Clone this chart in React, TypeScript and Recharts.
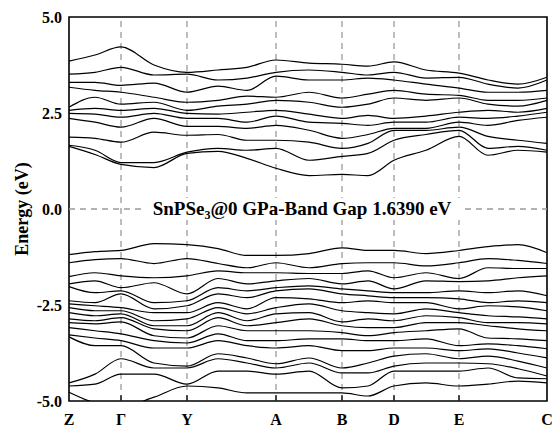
import { Line, LineChart, ReferenceArea, ReferenceLine, XAxis, YAxis } from "recharts";

// k-path distance of each sampled point (Z .. C)
const kPath = [0, 26, 52, 85, 118, 149, 178, 207, 240, 273, 299, 325, 357, 390, 419, 449, 478];
const symPoints = [0, 52, 118, 207, 273, 325, 390, 478];
const symLabels = ["Z", "Γ", "Y", "A", "B", "D", "E", "C"];
const energyTicks = [-5, -2.5, 0, 2.5, 5];

// conduction bands (eV), top to bottom
const conduction = [
  [3.85, 4.01, 4.22, 3.75, 3.56, 3.62, 3.69, 3.88, 3.8, 3.77, 3.72, 3.83, 3.62, 3.54, 3.36, 3.25, 3.43],
  [3.51, 3.56, 3.69, 3.49, 3.51, 3.36, 3.41, 3.56, 3.62, 3.56, 3.49, 3.56, 3.41, 3.43, 3.25, 3.15, 3.36],
  [3.3, 3.3, 3.22, 3.28, 3.04, 3.2, 3.09, 3.46, 3.36, 3.36, 3.41, 3.36, 3.25, 3.15, 3.04, 3.04, 3.09],
  [3.17, 3.09, 3.04, 2.91, 2.78, 2.83, 2.94, 2.91, 3.04, 2.89, 2.99, 3.09, 2.99, 2.96, 2.83, 2.83, 2.89],
  [2.65, 2.91, 2.73, 2.78, 2.57, 2.68, 2.73, 2.83, 2.78, 2.65, 2.73, 2.89, 2.83, 2.89, 2.73, 2.68, 2.83],
  [2.57, 2.62, 2.57, 2.62, 2.49, 2.47, 2.52, 2.57, 2.47, 2.36, 2.44, 2.36, 2.42, 2.52, 2.57, 2.52, 2.62],
  [2.49, 2.47, 2.39, 2.49, 2.36, 2.36, 2.26, 2.42, 2.26, 2.23, 2.18, 2.26, 2.26, 2.39, 2.36, 2.42, 2.52],
  [2.36, 2.26, 2.13, 2.36, 2.15, 2.15, 2.1, 2.18, 2.05, 1.84, 1.94, 2.1, 2.1, 2.26, 2.18, 2.31, 2.39],
  [1.87, 1.84, 1.74, 2.0, 1.92, 1.94, 1.79, 1.79, 1.74, 1.58, 1.71, 2.05, 2.05, 2.13, 1.89, 1.79, 1.71],
  [1.66, 1.53, 1.21, 1.21, 1.48, 1.58, 1.53, 1.58, 1.27, 1.37, 1.45, 1.79, 1.94, 2.05, 1.58, 1.63, 1.53],
  [1.63, 1.42, 1.16, 1.08, 1.45, 1.5, 1.32, 1.06, 0.87, 0.9, 0.87, 1.27, 1.53, 1.89, 1.4, 1.53, 1.48],
];

// valence bands (eV), top to bottom
const valence = [
  [-1.19, -1.11, -1.08, -0.9, -0.93, -1.03, -1.21, -1.21, -1.16, -1.01, -1.08, -1.08, -1.16, -1.08, -0.98, -0.93, -1.14],
  [-1.4, -1.32, -1.29, -1.42, -1.29, -1.42, -1.53, -1.4, -1.53, -1.42, -1.4, -1.4, -1.48, -1.4, -1.29, -1.34, -1.42],
  [-1.76, -1.66, -1.74, -1.79, -1.74, -1.61, -1.66, -1.66, -1.68, -1.68, -1.61, -1.79, -1.66, -1.81, -1.53, -1.55, -1.55],
  [-1.95, -1.87, -2.05, -1.92, -2.21, -1.81, -1.95, -1.87, -1.81, -1.95, -1.87, -2.08, -1.87, -1.89, -1.87, -1.79, -1.74],
  [-2.02, -2.18, -2.13, -2.44, -2.39, -2.05, -2.13, -2.05, -2.0, -2.08, -2.13, -2.18, -2.18, -2.13, -2.18, -2.13, -2.26],
  [-2.39, -2.44, -2.21, -2.6, -2.52, -2.21, -2.31, -2.13, -2.08, -2.21, -2.26, -2.31, -2.31, -2.34, -2.44, -2.39, -2.44],
  [-2.47, -2.52, -2.57, -2.7, -2.7, -2.44, -2.6, -2.31, -2.34, -2.44, -2.39, -2.44, -2.44, -2.6, -2.52, -2.55, -2.65],
  [-2.57, -2.65, -2.65, -2.91, -2.86, -2.57, -2.73, -2.57, -2.47, -2.65, -2.7, -2.73, -2.6, -2.7, -2.78, -2.81, -2.86],
  [-2.7, -2.78, -2.73, -3.04, -3.04, -2.7, -2.91, -2.73, -2.7, -2.94, -2.86, -2.91, -2.78, -2.83, -2.96, -2.96, -2.99],
  [-2.86, -2.91, -2.83, -3.12, -3.17, -2.83, -3.04, -2.96, -2.86, -3.04, -3.09, -3.09, -2.96, -2.96, -3.04, -3.12, -3.17],
  [-2.96, -2.99, -2.94, -3.3, -3.36, -3.04, -3.17, -3.17, -3.17, -3.22, -3.3, -3.22, -3.17, -3.12, -3.36, -3.38, -3.43],
  [-3.09, -3.17, -3.25, -3.43, -3.49, -3.25, -3.43, -3.43, -3.38, -3.38, -3.43, -3.43, -3.38, -3.56, -3.51, -3.56, -3.64],
  [-3.28, -3.36, -3.43, -3.62, -3.62, -3.43, -3.56, -3.62, -3.56, -3.69, -3.69, -3.62, -3.62, -3.69, -3.64, -3.75, -3.88],
  [-3.33, -3.56, -3.56, -4.01, -4.09, -3.77, -3.88, -4.03, -3.88, -4.14, -4.01, -3.83, -3.77, -3.9, -3.83, -3.96, -4.14],
  [-4.53, -4.3, -3.9, -4.14, -4.14, -3.9, -4.01, -4.14, -4.01, -4.27, -4.27, -4.09, -4.01, -4.01, -4.03, -4.16, -4.35],
  [-4.61, -4.56, -4.3, -4.3, -4.56, -4.22, -4.22, -4.3, -4.22, -4.66, -4.61, -4.22, -4.22, -4.22, -4.14, -4.4, -4.42],
  [-4.77, -5.05, -5.16, -4.9, -4.61, -4.66, -4.79, -4.79, -4.79, -4.79, -4.87, -4.61, -4.53, -4.61, -4.56, -4.48, -4.53],
];

const FONT = "'Liberation Serif', 'Times New Roman', serif";
const TICK = { fill: "#000", fontSize: 16, fontWeight: 700, fontFamily: FONT };
const DASH = "#9a9a9a";

const bands = [...conduction.map((b, i) => ({ key: `c${i}`, values: b })), ...valence.map((b, i) => ({ key: `v${i}`, values: b }))];

const data = kPath.map((k, i) => {
  const row: Record<string, number> = { k };
  bands.forEach((b) => {
    row[b.key] = b.values[i];
  });
  return row;
});

function GapLabel({ viewBox }: any) {
  const cx = viewBox.x + 233;
  const cy = viewBox.y;
  return (
    <g>
      <rect x={cx - 160} y={cy - 11} width={320} height={22} fill="#fff" />
      <text x={cx} y={cy + 6} textAnchor="middle" fontFamily={FONT} fontWeight={700} fontSize={19} fill="#000">
        <tspan>SnPSe</tspan>
        <tspan fontSize={12} dy={4}>3</tspan>
        <tspan dy={-4}>@0 GPa-Band Gap 1.6390 eV</tspan>
      </text>
    </g>
  );
}

function EnergyLabel() {
  return (
    <text
      x={22}
      y={209}
      transform="rotate(-90, 22, 209)"
      textAnchor="middle"
      dominantBaseline="central"
      fontFamily={FONT}
      fontWeight={700}
      fontSize={18}
      fill="#000"
    >
      Energy (eV)
    </text>
  );
}

export default function App() {
  return (
    <div style={{ position: "absolute", left: 0, top: 0, width: 553, height: 430, background: "#fff" }}>
      <LineChart width={553} height={430} data={data} margin={{ top: 17, right: 6, bottom: 0, left: 0 }}>
        <XAxis
          type="number"
          dataKey="k"
          domain={[0, 478]}
          ticks={symPoints}
          tickFormatter={(v) => symLabels[symPoints.indexOf(v)]}
          interval={0}
          axisLine={false}
          tickLine={false}
          tickMargin={7}
          height={29}
          tick={TICK}
        />
        <YAxis
          type="number"
          domain={[-5, 5]}
          ticks={energyTicks}
          tickFormatter={(v) => v.toFixed(1)}
          allowDataOverflow
          axisLine={false}
          tickLine={false}
          tickMargin={1}
          width={69}
          tick={TICK}
          label={{ content: () => <EnergyLabel /> }}
        />
        {symPoints.slice(1, -1).map((p) => (
          <ReferenceLine key={`d${p}`} x={p} stroke={DASH} strokeWidth={1.3} strokeDasharray="6 5" />
        ))}
        <ReferenceLine y={0} stroke={DASH} strokeWidth={1.3} strokeDasharray="6 5" />
        {bands.map((b) => (
          <Line
            key={b.key}
            dataKey={b.key}
            type="monotone"
            stroke="#000"
            strokeWidth={1.2}
            dot={false}
            activeDot={false}
            isAnimationActive={false}
          />
        ))}
        <ReferenceLine y={0} stroke="none" label={<GapLabel />} />
        {symPoints.slice(1, -1).map((p) => (
          <ReferenceLine
            key={`t${p}`}
            segment={[
              { x: p, y: -5 },
              { x: p, y: -4.85 },
            ]}
            stroke="#000"
            strokeWidth={1.3}
          />
        ))}
        <ReferenceArea x1={0} x2={478} y1={-5} y2={5} fill="none" stroke="#000" strokeWidth={1.6} />
      </LineChart>
    </div>
  );
}
